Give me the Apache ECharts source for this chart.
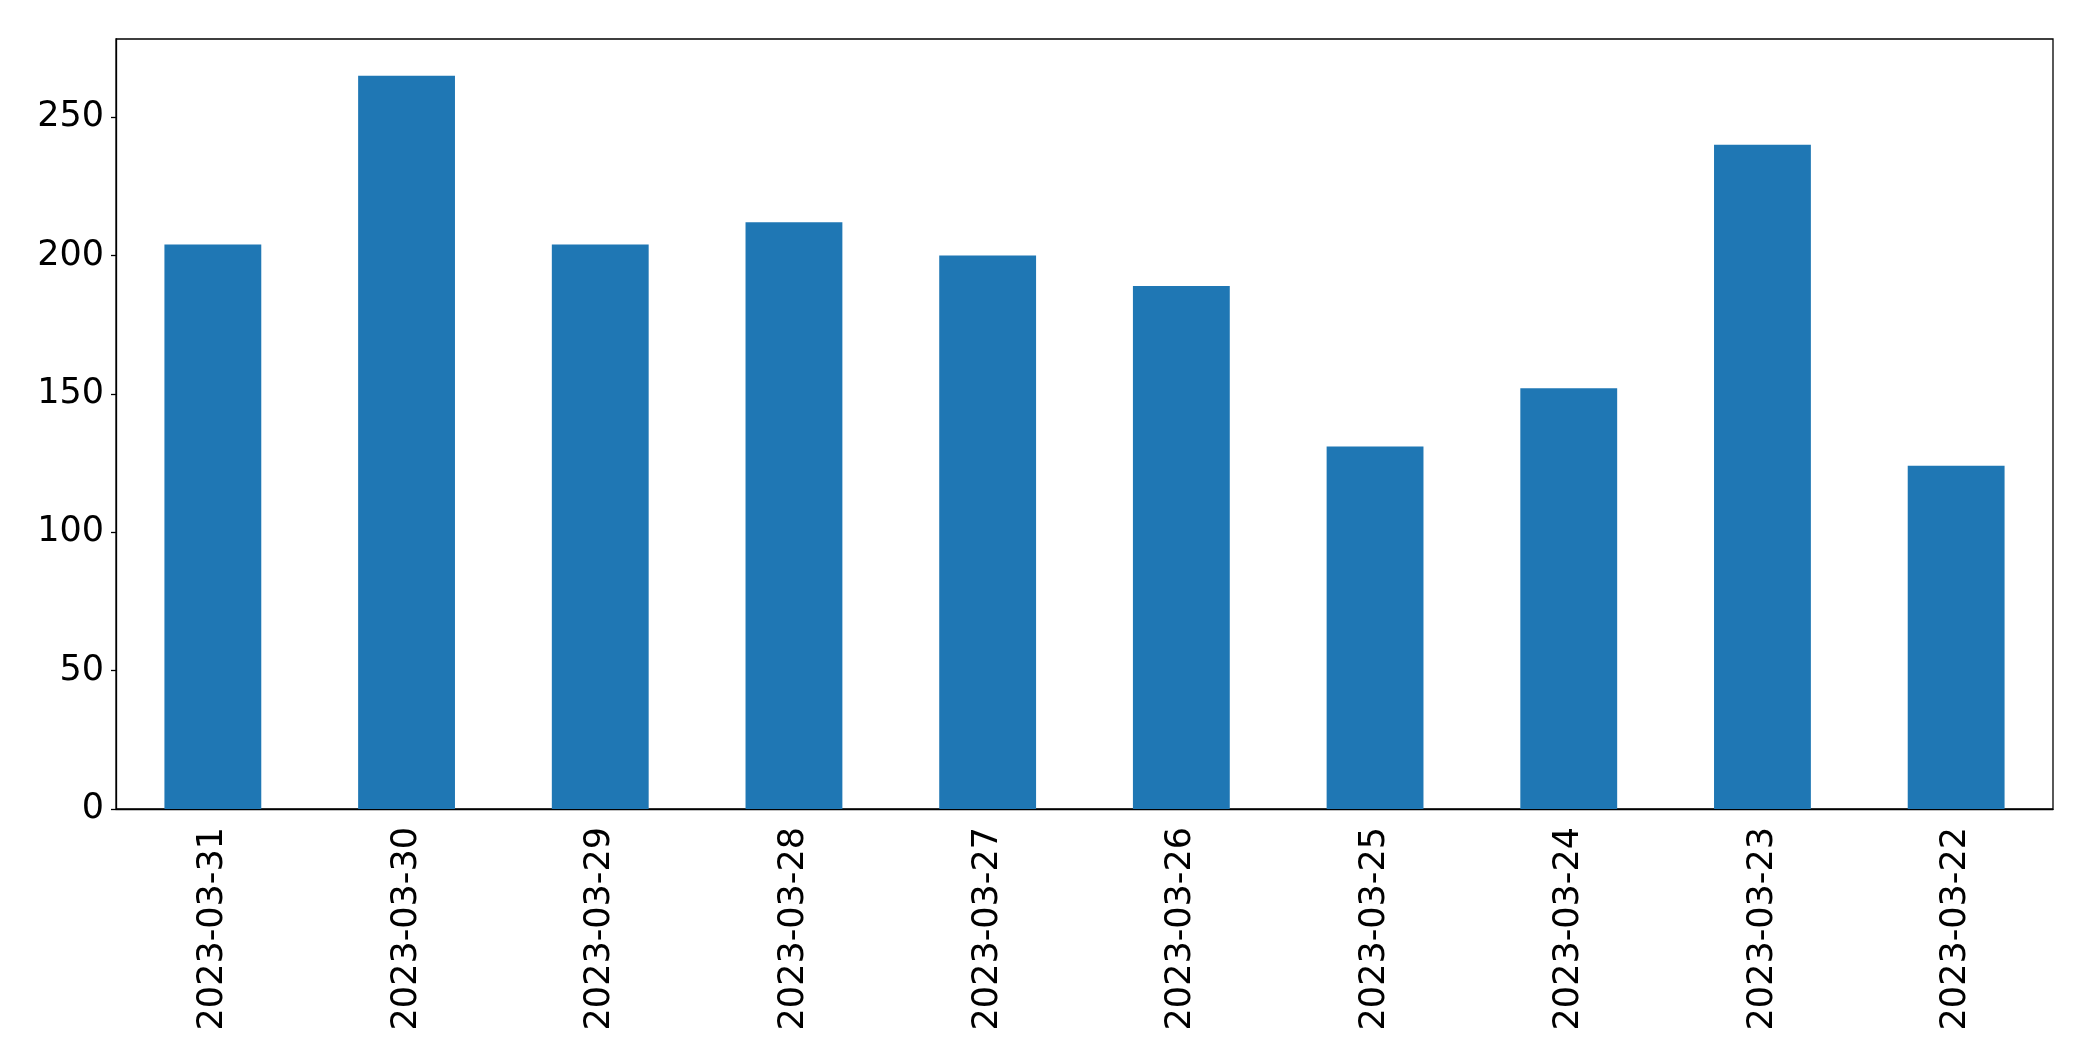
<!DOCTYPE html>
<html>
<head>
<meta charset="utf-8">
<script src="https://cdn.jsdelivr.net/npm/echarts@6/dist/echarts.min.js"></script>
<style>
  html, body { margin: 0; padding: 0; background: #fff; }
  #container { width: 2093px; height: 1061px; }
</style>
</head>
<body>
<div id="container"></div>
<script>
/* 类目：日期 */
var dates = ['2023-03-31', '2023-03-30', '2023-03-29', '2023-03-28', '2023-03-27',
             '2023-03-26', '2023-03-25', '2023-03-24', '2023-03-23', '2023-03-22'];
/* 数值 */
var counts = [204, 265, 204, 212, 200, 189, 131, 152, 240, 124];
/* y轴刻度 */
var yTicks = [0, 50, 100, 150, 200, 250];

var yMax = Math.max.apply(null, counts) * 1.05;

var dom = document.getElementById('container');
var myChart = echarts.init(dom);

var option = {
    animation: false,
    backgroundColor: '#fff',
    grid: {
        left: 116,
        right: 40,
        top: 39,
        bottom: 252,
        show: true,
        borderColor: '#000',
        borderWidth: 1.3,
        containLabel: false
    },
    xAxis: {
        type: 'category',
        data: dates,
        axisLine: { lineStyle: { color: '#000', width: 1.3 } },
        axisTick: { alignWithLabel: true, length: 5, lineStyle: { color: '#000', width: 1.3 } },
        axisLabel: {
            rotate: 90,
            margin: 18,
            color: '#000',
            fontSize: 35,
            fontFamily: 'DejaVu Sans',
            interval: 0
        },
        splitLine: { show: false }
    },
    yAxis: {
        type: 'value',
        min: 0,
        max: yMax,
        interval: 50,
        axisLine: { show: true, lineStyle: { color: '#000', width: 1.3 } },
        axisTick: { show: true, length: 5, lineStyle: { color: '#000', width: 1.3 } },
        axisLabel: {
            margin: 12,
            color: '#000',
            fontSize: 35,
            fontFamily: 'DejaVu Sans',
            showMaxLabel: false,
            formatter: function (v) {
                return yTicks.indexOf(v) >= 0 ? String(v) : '';
            }
        },
        splitLine: { show: false }
    },
    series: [{
        type: 'bar',
        data: counts,
        barWidth: '50%',
        itemStyle: { color: '#1f77b4' }
    }]
};

myChart.setOption(option);
</script>
</body>
</html>
